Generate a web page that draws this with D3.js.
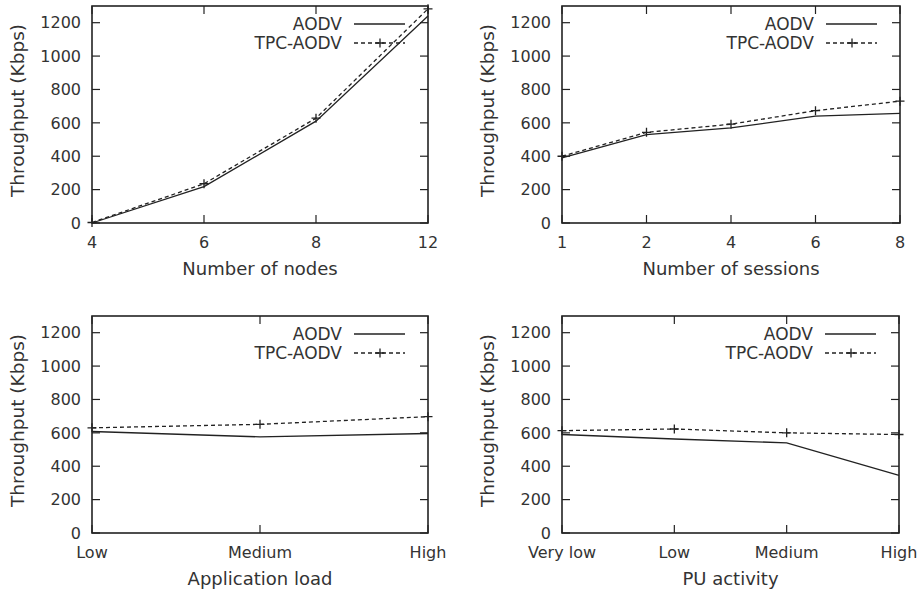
<!DOCTYPE html>
<html>
<head>
<meta charset="utf-8">
<script src="https://cdn.jsdelivr.net/npm/d3@7"></script>
<style>
  body { margin: 0; background: #fff; }
  svg text { font-family: 'DejaVu Sans', sans-serif; fill: #333; }
</style>
</head>
<body>
<div id="chart"></div>
<script>
// values (Kbps)
const nodeCats = ['4', '6', '8', '12'];
const nodeAodv = [0, 218, 610, 1240];
const nodeTpc = [3, 235, 628, 1283];

const sessionCats = ['1', '2', '4', '6', '8'];
const sessionAodv = [390, 530, 570, 640, 657];
const sessionTpc = [400, 543, 592, 673, 730];

const loadCats = ['Low', 'Medium', 'High'];
const loadAodv = [608, 576, 596];
const loadTpc = [630, 651, 697];

const puCats = ['Very low', 'Low', 'Medium', 'High'];
const puAodv = [590, 563, 540, 345];
const puTpc = [613, 623, 600, 590];

const yTicks = [0, 200, 400, 600, 800, 1000, 1200];
const seriesNames = ['AODV', 'TPC-AODV'];
const yTitle = 'Throughput (Kbps)';

const ink = '#222';
const tickLen = 8;

const svg = d3.select('#chart').append('svg').attr('width', 923).attr('height', 595);

const cross = (g, cx, cy) => {
  const s = 4.5;
  g.append('path')
    .attr('d', `M${cx - s},${cy}H${cx + s}M${cx},${cy - s}V${cy + s}`)
    .attr('stroke', ink)
    .attr('stroke-width', 1.3);
};

const makePanel = (box, cats, aodv, tpc, xTitle) => {
  const g = svg.append('g');
  const x = d3.scalePoint().domain(cats).range([box.left, box.right]).padding(0);
  const y = d3.scaleLinear().domain([0, 1300]).range([box.bottom, box.top]);

  // inward ticks on all four sides (gnuplot mirror style)
  yTicks.forEach((v) => {
    g.append('line').attr('x1', box.left).attr('x2', box.left + tickLen)
      .attr('y1', y(v)).attr('y2', y(v)).attr('stroke', ink).attr('stroke-width', 1.2);
    g.append('line').attr('x1', box.right).attr('x2', box.right - tickLen)
      .attr('y1', y(v)).attr('y2', y(v)).attr('stroke', ink).attr('stroke-width', 1.2);
    g.append('text')
      .attr('x', box.left - 11)
      .attr('y', y(v))
      .attr('dy', '0.36em')
      .attr('text-anchor', 'end')
      .style('font-size', '16px')
      .text(v);
  });
  cats.forEach((c) => {
    g.append('line').attr('x1', x(c)).attr('x2', x(c))
      .attr('y1', box.bottom).attr('y2', box.bottom - tickLen).attr('stroke', ink).attr('stroke-width', 1.2);
    g.append('line').attr('x1', x(c)).attr('x2', x(c))
      .attr('y1', box.top).attr('y2', box.top + tickLen).attr('stroke', ink).attr('stroke-width', 1.2);
    g.append('text')
      .attr('x', x(c))
      .attr('y', box.bottom + 25)
      .attr('text-anchor', 'middle')
      .style('font-size', '16px')
      .text(c);
  });

  const line = d3.line().x((d) => x(d.cat)).y((d) => y(d.val));
  const aodvData = cats.map((c, i) => ({ cat: c, val: aodv[i] }));
  const tpcData = cats.map((c, i) => ({ cat: c, val: tpc[i] }));

  g.append('path').attr('d', line(aodvData)).attr('fill', 'none')
    .attr('stroke', ink).attr('stroke-width', 1.3);
  g.append('path').attr('d', line(tpcData)).attr('fill', 'none')
    .attr('stroke', ink).attr('stroke-width', 1.3).attr('stroke-dasharray', '4,3');
  tpcData.forEach((d) => cross(g, x(d.cat), y(d.val)));

  // legend
  const legY = [box.top + 18, box.top + 37];
  seriesNames.forEach((name, i) => {
    g.append('text')
      .attr('x', box.right - 86)
      .attr('y', legY[i])
      .attr('dy', '0.36em')
      .attr('text-anchor', 'end')
      .style('font-size', '17px')
      .text(name);
    g.append('line')
      .attr('x1', box.right - 74).attr('x2', box.right - 23)
      .attr('y1', legY[i]).attr('y2', legY[i])
      .attr('stroke', ink).attr('stroke-width', 1.3)
      .attr('stroke-dasharray', i === 1 ? '4,3' : null);
    if (i === 1) cross(g, box.right - 48, legY[i]);
  });

  // frame
  g.append('rect')
    .attr('x', box.left).attr('y', box.top)
    .attr('width', box.right - box.left).attr('height', box.bottom - box.top)
    .attr('fill', 'none').attr('stroke', ink).attr('stroke-width', 1.6);

  g.append('text')
    .attr('x', (box.left + box.right) / 2)
    .attr('y', box.bottom + 52)
    .attr('text-anchor', 'middle')
    .style('font-size', '18px')
    .text(xTitle);

  g.append('text')
    .attr('transform', `translate(${box.left - 68},${(box.top + box.bottom) / 2 - 4}) rotate(-90)`)
    .attr('text-anchor', 'middle')
    .style('font-size', '18.5px')
    .text(yTitle);
};

makePanel({ left: 92, right: 428, top: 6, bottom: 223 }, nodeCats, nodeAodv, nodeTpc, 'Number of nodes');
makePanel({ left: 562, right: 900, top: 6, bottom: 223 }, sessionCats, sessionAodv, sessionTpc, 'Number of sessions');
makePanel({ left: 92, right: 428, top: 316, bottom: 533 }, loadCats, loadAodv, loadTpc, 'Application load');
makePanel({ left: 562, right: 899, top: 316, bottom: 533 }, puCats, puAodv, puTpc, 'PU activity');
</script>
</body>
</html>
